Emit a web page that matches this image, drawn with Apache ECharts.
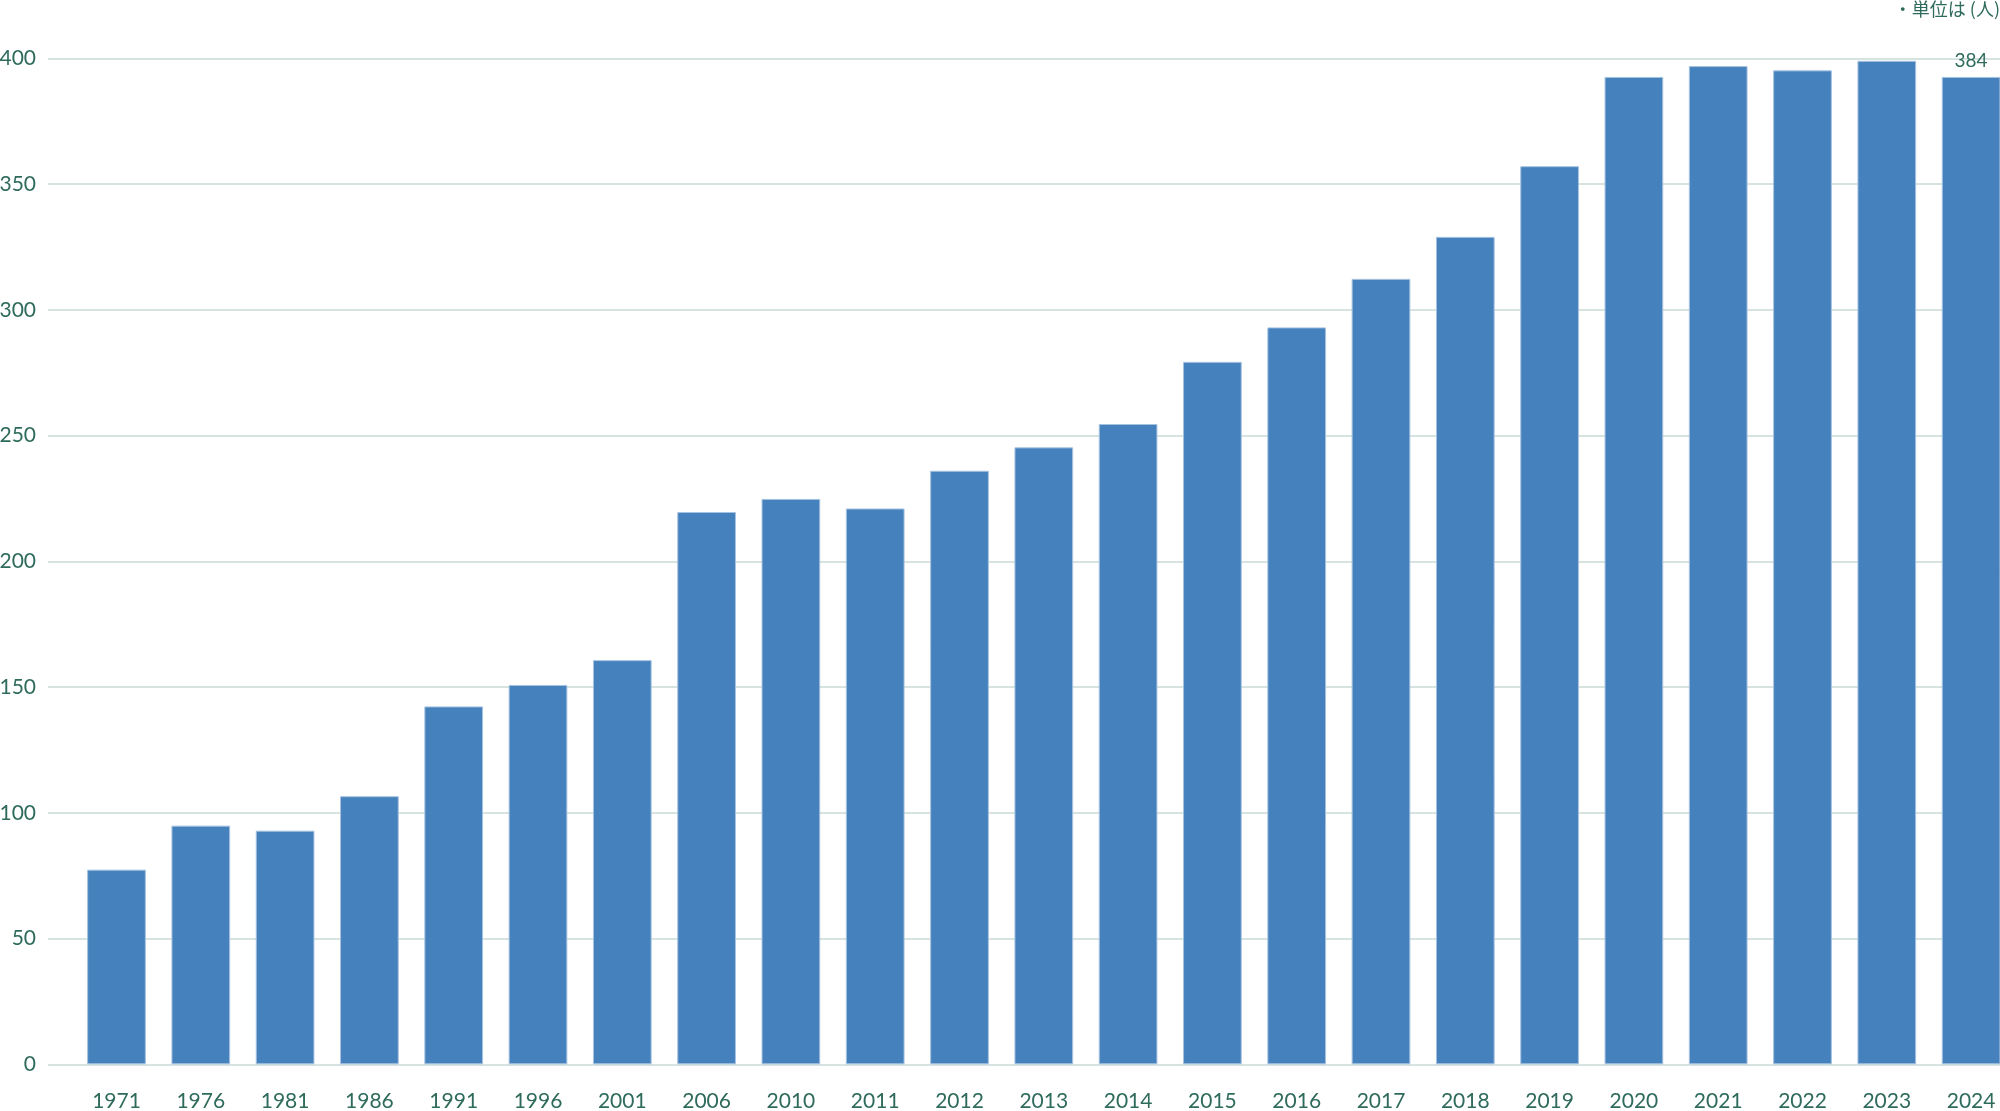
<!DOCTYPE html>
<html>
<head>
<meta charset="utf-8">
<script src="https://cdn.jsdelivr.net/npm/echarts@6/dist/echarts.min.js"></script>
<style>
html,body{margin:0;padding:0;background:#fff;}
#main{width:2000px;height:1111px;}
</style>
</head>
<body>
<div id="main"></div>
<script>
const categories = ['1971','1976','1981','1986','1991','1996','2001','2006','2010','2011','2012','2013','2014','2015','2016','2017','2018','2019','2020','2021','2022','2023','2024'];
const values = [77.4, 94.9, 92.9, 106.6, 142.3, 150.8, 160.7, 219.6, 224.8, 221.0, 236.0, 245.3, 254.6, 279.3, 293.0, 312.3, 329.0, 357.1, 392.6, 396.9, 395.2, 399.0, 392.6];
const valueLabels = ['','','','','','','','','','','','','','','','','','','','','','','384'];
const yTicks = [0, 400, 50];
const unitText = '・単位は (人)';

const textColor = '#2f6b5c';
const gridColor = '#c9dad6';
const fontLatin = 'Lato, "Noto Sans", sans-serif';

const chart = echarts.init(document.getElementById('main'));
chart.setOption({
  animation: false,
  backgroundColor: '#ffffff',
  grid: [
    {left: 74.35, right: -13.25, top: 58.3, height: 1006, containLabel: false, outerBoundsMode: 'none'},
    {left: 48, right: 0, top: 58.3, height: 1006, containLabel: false, outerBoundsMode: 'none'}
  ],
  xAxis: [
    {
      type: 'category', gridIndex: 0, data: categories,
      axisLine: {show: false}, axisTick: {show: false},
      axisLabel: {color: textColor, fontSize: 21, fontFamily: fontLatin, margin: 26}
    },
    {type: 'value', gridIndex: 1, min: 0, max: 1, show: false}
  ],
  yAxis: [
    {type: 'value', gridIndex: 0, min: yTicks[0], max: yTicks[1], interval: yTicks[2], show: false},
    {
      type: 'value', gridIndex: 1, min: yTicks[0], max: yTicks[1], interval: yTicks[2],
      axisLine: {show: false}, axisTick: {show: false},
      splitLine: {show: true, lineStyle: {color: gridColor, width: 1.5}},
      axisLabel: {color: textColor, fontSize: 21, fontFamily: fontLatin, margin: 12}
    }
  ],
  series: [{
    type: 'bar',
    xAxisIndex: 0, yAxisIndex: 0,
    data: values,
    barWidth: 58.7,
    itemStyle: {color: '#4481bd', borderColor: '#a6c2e0', borderWidth: 1},
    label: {
      show: true, position: 'top', distance: 7,
      color: textColor, fontSize: 19, fontFamily: fontLatin,
      formatter: p => valueLabels[p.dataIndex]
    },
    z: 3
  }],
  graphic: [{
    type: 'text', right: 0, top: 0,
    style: {text: unitText, fill: textColor, fontSize: 18, fontFamily: '"Noto Sans CJK JP", sans-serif'}
  }]
});
</script>
</body>
</html>
